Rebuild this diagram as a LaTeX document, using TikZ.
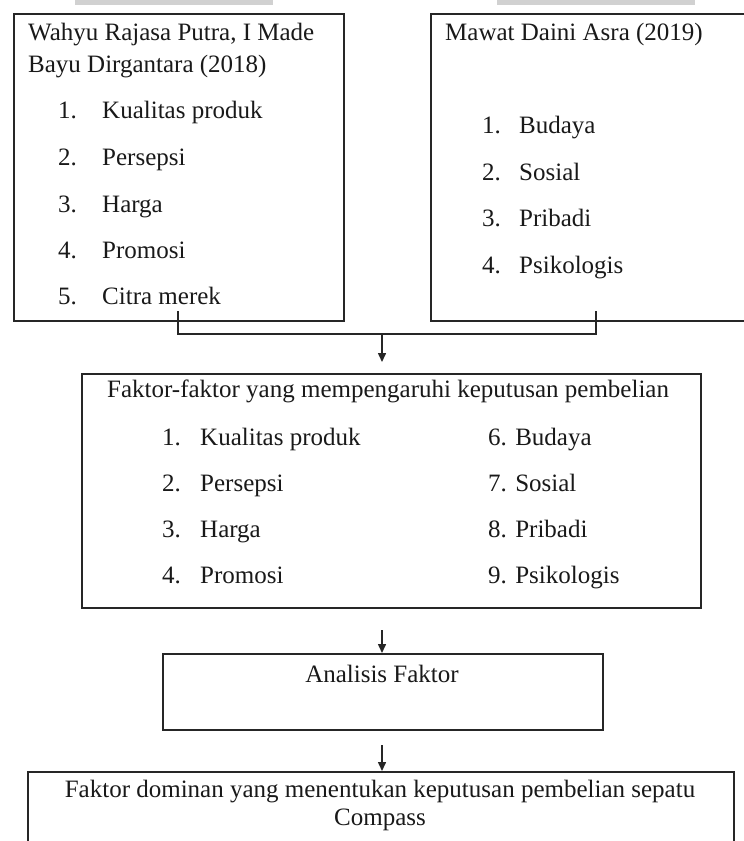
\documentclass[tikz,border=0pt]{standalone}
\usepackage{fontspec}
\setmainfont{Liberation Serif}
\usetikzlibrary{arrows.meta}
\begin{document}
\begin{tikzpicture}[x=1pt,y=-1pt,
  box/.style={draw=black!85,line width=1.7pt,rectangle,inner sep=0pt,anchor=north west},
  txt/.style={anchor=base west,inner sep=0pt,font=\fontsize{25}{30}\selectfont,text=black!90},
  ctxt/.style={anchor=base,inner sep=0pt,font=\fontsize{25}{30}\selectfont,text=black!90},
  conn/.style={draw=black!85,line width=1.7pt},
  arr/.style={draw=black!85,line width=1.5pt,-{Triangle[length=9pt,width=8pt]}}]
\useasboundingbox (0,0) rectangle (744,841);
% faint band at the top
\fill[black!18] (75,0) rectangle (273,5);
\fill[black!18] (497,0) rectangle (695,5);
% boxes
\node[box,minimum width=330pt,minimum height=307pt] (L) at (13,13) {};
\node[box,minimum width=340pt,minimum height=307pt] (R) at (430,13) {};
\node[box,minimum width=619pt,minimum height=234pt] (M) at (81,373) {};
\node[box,minimum width=440pt,minimum height=76pt] (A) at (162,653) {};
\node[box,minimum width=706pt,minimum height=100pt] (B) at (27,771) {};
% left box text
\node[txt] (l0) at (28,40) {Wahyu Rajasa Putra, I Made};
\node[txt] (l00) at (28,72) {Bayu Dirgantara (2018)};
\node[txt] (ln1) at (58,118) {1.};  \node[txt] (lt1) at (102,118) {Kualitas produk};
\node[txt] (ln2) at (58,165) {2.};  \node[txt] (lt2) at (102,165) {Persepsi};
\node[txt] (ln3) at (58,212) {3.};  \node[txt] (lt3) at (102,212) {Harga};
\node[txt] (ln4) at (58,258) {4.};  \node[txt] (lt4) at (102,258) {Promosi};
\node[txt] (ln5) at (58,304) {5.};  \node[txt] (lt5) at (102,304) {Citra merek};
% right box text
\node[txt] (r0) at (445,40) {Mawat Daini Asra (2019)};
\node[txt] (rn1) at (482,133) {1.};  \node[txt] (rt1) at (519,133) {Budaya};
\node[txt] (rn2) at (482,180) {2.};  \node[txt] (rt2) at (519,180) {Sosial};
\node[txt] (rn3) at (482,226) {3.};  \node[txt] (rt3) at (519,226) {Pribadi};
\node[txt] (rn4) at (482,273) {4.};  \node[txt] (rt4) at (519,273) {Psikologis};
% middle box text
\node[txt] (m0) at (107,397) {Faktor-faktor yang mempengaruhi keputusan pembelian};
\node[txt] (mn1) at (162,445) {1.};  \node[txt] (mt1) at (200,445) {Kualitas produk};
\node[txt] (mn2) at (162,491) {2.};  \node[txt] (mt2) at (200,491) {Persepsi};
\node[txt] (mn3) at (162,537) {3.};  \node[txt] (mt3) at (200,537) {Harga};
\node[txt] (mn4) at (162,583) {4.};  \node[txt] (mt4) at (200,583) {Promosi};
\node[txt] (m6) at (488,445) {6. Budaya};
\node[txt] (m7) at (488,491) {7. Sosial};
\node[txt] (m8) at (488,537) {8. Pribadi};
\node[txt] (m9) at (488,583) {9. Psikologis};
% analysis text
\node[ctxt] (a0) at (382,682) {Analisis Faktor};
% bottom text
\node[ctxt] (b0) at (380,797) {Faktor dominan yang menentukan keputusan pembelian sepatu};
\node[ctxt] (b1) at (380,825) {Compass};
% connectors
\coordinate (lc) at (178,311);
\coordinate (rc) at (596,311);
\coordinate (jn) at (382,334);
\coordinate (tip1) at (382,362);
\draw[conn] (lc) |- (jn) -| (rc);
\draw[arr] (jn) -- (tip1);
\coordinate (s2) at (382,630);
\draw[arr] (s2) -- (A.north -| s2);
\coordinate (s3) at (382,745);
\draw[arr] (s3) -- (B.north -| s3);
\end{tikzpicture}
\end{document}
